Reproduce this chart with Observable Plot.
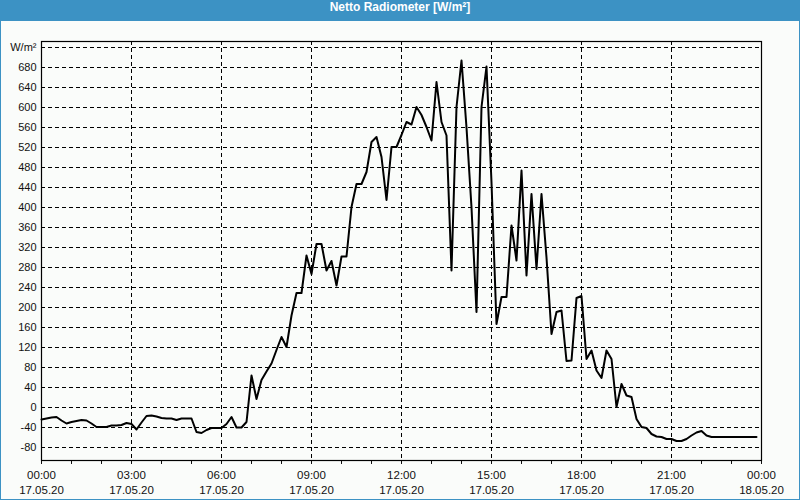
<!DOCTYPE html>
<html>
<head>
<meta charset="utf-8">
<script src="https://cdn.jsdelivr.net/npm/d3@7"></script>
<script src="https://cdn.jsdelivr.net/npm/@observablehq/plot@0.6"></script>
<style>
  html, body { margin: 0; padding: 0; background: #fff; }
  #wrap { width: 798px; height: 499px; border: 1px solid #3c92c4; border-top: none; background: #fafcfa; position: relative; overflow: hidden; }
  #title { height: 21px; line-height: 20px; background: #3c92c4; color: #fff; text-align: center; font: bold 12px "Liberation Sans", "DejaVu Sans", sans-serif; }
  svg { display: block; }
</style>
</head>
<body>
<div id="wrap">
  <div id="title">Netto Radiometer [W/m²]</div>
  <div id="chart"></div>
</div>
<script>
// Net radiation readings, one every 10 minutes on 17.05.20 from 00:00
const startTime = "2020-05-17T00:00:00";
const endTime = "2020-05-18T00:00:00";
const stepMinutes = 10;
const values = [
  -24, -22, -20, -19, -26, -32, -29, -27, -25, -26,
  -32, -39, -39, -39, -36, -36, -35, -31, -33, -44,
  -30, -17, -16, -18, -21, -22, -22, -25, -22, -22,
  -22, -49, -51, -45, -41, -41, -41, -33, -19, -40,
  -40, -29, 64, 17, 55, 72, 88, 115, 141, 121,
  184, 229, 229, 304, 267, 327, 327, 274, 293, 244,
  302, 302, 401, 447, 447, 471, 531, 541, 501, 415,
  521, 521, 545, 571, 566, 601, 585, 561, 534, 651,
  571, 544, 274, 601, 694, 560, 400, 191, 601, 682,
  450, 167, 221, 221, 364, 294, 474, 264, 427, 277,
  427, 300, 147, 191, 194, 93, 94, 219, 223, 97,
  114, 74, 59, 114, 97, 1, 47, 24, 21, -23,
  -39, -41, -53, -58, -59, -63, -63, -67, -67, -63,
  -56, -50, -47, -56, -59, -59, -59, -59, -59, -59,
  -59, -59, -59, -59
];
const yTicks = [-80, -40, 0, 40, 80, 120, 160, 200, 240, 280, 320, 360, 400, 440, 480, 520, 560, 600, 640, 680, 720];
const yUnitLabel = "W/m²";
const dateLabel = "17.05.20";
const endDateLabel = "18.05.20";

const t0 = new Date(startTime);
const t1 = new Date(endTime);
const data = values.map((v, i) => ({ t: new Date(t0.getTime() + i * stepMinutes * 60000), v }));
const majorTicks = d3.timeHour.every(3).range(t0, new Date(t1.getTime() + 1));
const minorTicks = d3.timeHour.every(1).range(t0, new Date(t1.getTime() + 1));
const innerMajor = majorTicks.filter(d => +d !== +t0 && +d !== +t1);
const fmtTime = d3.timeFormat("%H:%M");

const font = '"Liberation Sans", "DejaVu Sans", sans-serif';

const chart = Plot.plot({
  width: 798,
  height: 478,
  marginTop: 20,
  marginBottom: 39,
  marginLeft: 40,
  marginRight: 38,
  style: { background: "transparent", fontFamily: font, fontSize: "11px", color: "#111" },
  x: { type: "time", domain: [t0, t1] },
  y: { domain: [-106, 732] },
  marks: [
    Plot.ruleY(yTicks, { stroke: "#000", strokeDasharray: "4,3", strokeWidth: 1, strokeOpacity: 1 }),
    Plot.ruleX(innerMajor, { stroke: "#000", strokeDasharray: "4,3", strokeWidth: 1, strokeOpacity: 1 }),
    Plot.axisY({ ticks: yTicks, tickSize: 0, tickPadding: 5, label: null,
      tickFormat: d => d === 720 ? yUnitLabel : String(d), fontSize: 11 }),
    Plot.axisX({ ticks: minorTicks, tickSize: 4, tickFormat: () => "", label: null, strokeWidth: 1 }),
    Plot.axisX({ ticks: majorTicks, tickSize: 4, tickPadding: 4, label: null, lineHeight: 1.28,
      tickFormat: d => fmtTime(d) + "\n" + (+d === +t1 ? endDateLabel : dateLabel), fontSize: 11.5 }),
    Plot.frame({ stroke: "#000", strokeWidth: 1.2 }),
    Plot.line(data, { x: "t", y: "v", stroke: "#000", strokeWidth: 2 })
  ]
});
document.getElementById("chart").appendChild(chart);
</script>
</body>
</html>
